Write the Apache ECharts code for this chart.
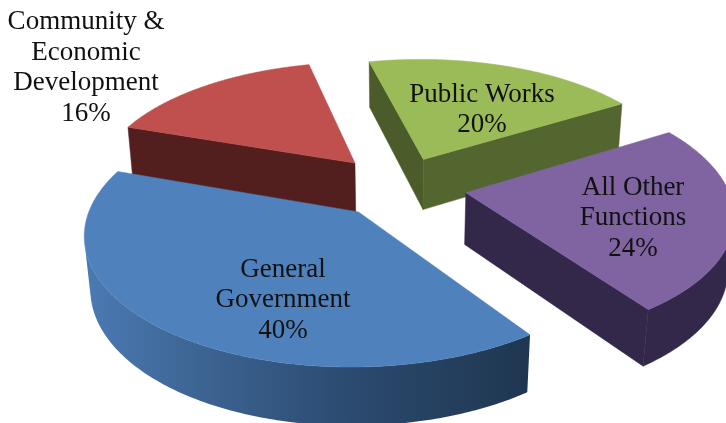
<!DOCTYPE html>
<html>
<head>
<meta charset="utf-8">
<style>html,body{margin:0;background:#fff}#chart{width:726px;height:423px}</style>
<script src="https://cdn.jsdelivr.net/npm/echarts@6/dist/echarts.min.js"></script>
</head>
<body>
<div id="chart"></div>
<script>
// Budget share by function, clockwise from the top of the pie.
const categories = ['Public Works', 'All Other\nFunctions', 'General\nGovernment', 'Community &\nEconomic\nDevelopment'];
const values = [20, 24, 40, 16];

// Back-to-front painting order, as indexes into the lists above.
const drawOrder = [3, 0, 1, 2];

// Slice colours: top face, the two radial walls and the outer wall.
const palette = [
  { top: '#9bbb59', a: '#4b5c2a', b: '#546630', rim: '#546630' },
  { top: '#8064a2', a: '#33284a', b: '#33284a', rim: '#33284a' },
  { top: '#4f81bd', a: '#1f3650', b: '#1f3650',
    rim: [['#4b7ab3', 0], ['#3d6594', 0.25], ['#2b4a6f', 0.6], ['#1f3650', 1]] },
  { top: '#c0504d', a: '#521f1e', b: '#521f1e', rim: '#521f1e' }
];

// Label anchors in pixels.
const labelSpots = [[482, 110], [633, 218], [283, 300], [86, 68]];

// Camera and pie layout.
const view = { cx: 399.645, cy: 186.248, tilt: 0.489, dist: 1514.165 };
const pie = { radius: 261.361, height: 59.313, startDeg: -13.42 };
const explode = [64.086, 67.052, 66.308, 68.475];

function project(X, Y, Z) {
  const up = -Y * Math.sin(view.tilt) + Z * Math.cos(view.tilt);
  const depth = view.dist - (Y * Math.cos(view.tilt) + Z * Math.sin(view.tilt));
  return [view.cx + view.dist * X / depth, view.cy - view.dist * up / depth];
}

// Angular extent of each slice comes from its value; each slice is pushed out along its middle.
const slices = (function () {
  let start = pie.startDeg;
  return values.map(function (v, i) {
    const end = start + v * 3.6;
    const mid = (start + end) / 2 * Math.PI / 180;
    const s = {
      a: start * Math.PI / 180,
      b: end * Math.PI / 180,
      ox: explode[i] * Math.sin(mid),
      oy: -explode[i] * Math.cos(mid)
    };
    start = end;
    return s;
  });
})();

function rimPoint(s, th, z) {
  return project(s.ox + pie.radius * Math.sin(th), s.oy - pie.radius * Math.cos(th), z);
}

function signedArea(q) {
  let sum = 0;
  q.forEach(function (c, i) {
    const n = q[(i + 1) % q.length];
    sum += c[0] * n[1] - n[0] * c[1];
  });
  return sum;
}

function face(points, fill) {
  return {
    type: 'polygon',
    shape: { points: points },
    style: { fill: fill, stroke: typeof fill === 'string' ? fill : undefined, lineWidth: 0.5 }
  };
}

function renderSlice(params, api) {
  const i = api.value(0), s = slices[i], c = palette[i], low = -pie.height, kids = [];
  const apexTop = project(s.ox, s.oy, 0), apexLow = project(s.ox, s.oy, low);
  const n = 200, T = [], B = [];
  for (let k = 0; k <= n; k++) {
    const th = s.a + (s.b - s.a) * k / n;
    T.push(rimPoint(s, th, 0));
    B.push(rimPoint(s, th, low));
  }

  // Radial walls, only where they face the camera.
  const wallA = [apexTop, T[0], B[0], apexLow], wallB = [T[n], apexTop, apexLow, B[n]];
  if (signedArea(wallA) < 0) kids.push(face(wallA, c.a));
  if (signedArea(wallB) < 0) kids.push(face(wallB, c.b));

  // Outer wall: join the camera-facing stretch into one shape.
  let run = null;
  const flush = function () {
    if (!run) return;
    const pts = T.slice(run[0], run[1] + 1).concat(B.slice(run[0], run[1] + 1).reverse());
    let fill = c.rim;
    if (Array.isArray(c.rim)) {
      const xs = pts.map(function (q) { return q[0]; });
      fill = {
        type: 'linear', global: true,
        x: Math.min.apply(null, xs), y: 0, x2: Math.max.apply(null, xs), y2: 0,
        colorStops: c.rim.map(function (e) { return { color: e[0], offset: e[1] }; })
      };
    }
    kids.push(face(pts, fill));
    run = null;
  };
  for (let k = 0; k < n; k++) {
    if (signedArea([T[k], T[k + 1], B[k + 1], B[k]]) < 0) {
      if (run) run[1] = k + 1; else run = [k, k + 1];
    } else flush();
  }
  flush();

  kids.push(face([apexTop].concat(T), c.top));
  kids.push({
    type: 'text', z2: 10,
    style: {
      text: categories[i] + '\n' + values[i] + '%',
      x: labelSpots[i][0], y: labelSpots[i][1],
      align: 'center', verticalAlign: 'middle',
      fontFamily: '"Liberation Serif"', fontSize: 27, lineHeight: 30.5, fill: '#111'
    }
  });
  return { type: 'group', children: kids };
}

echarts.init(document.getElementById('chart')).setOption({
  animation: false,
  series: [{
    type: 'custom',
    coordinateSystem: 'none',
    renderItem: renderSlice,
    data: drawOrder.map(function (i) { return [i]; })
  }]
});
</script>
</body>
</html>
